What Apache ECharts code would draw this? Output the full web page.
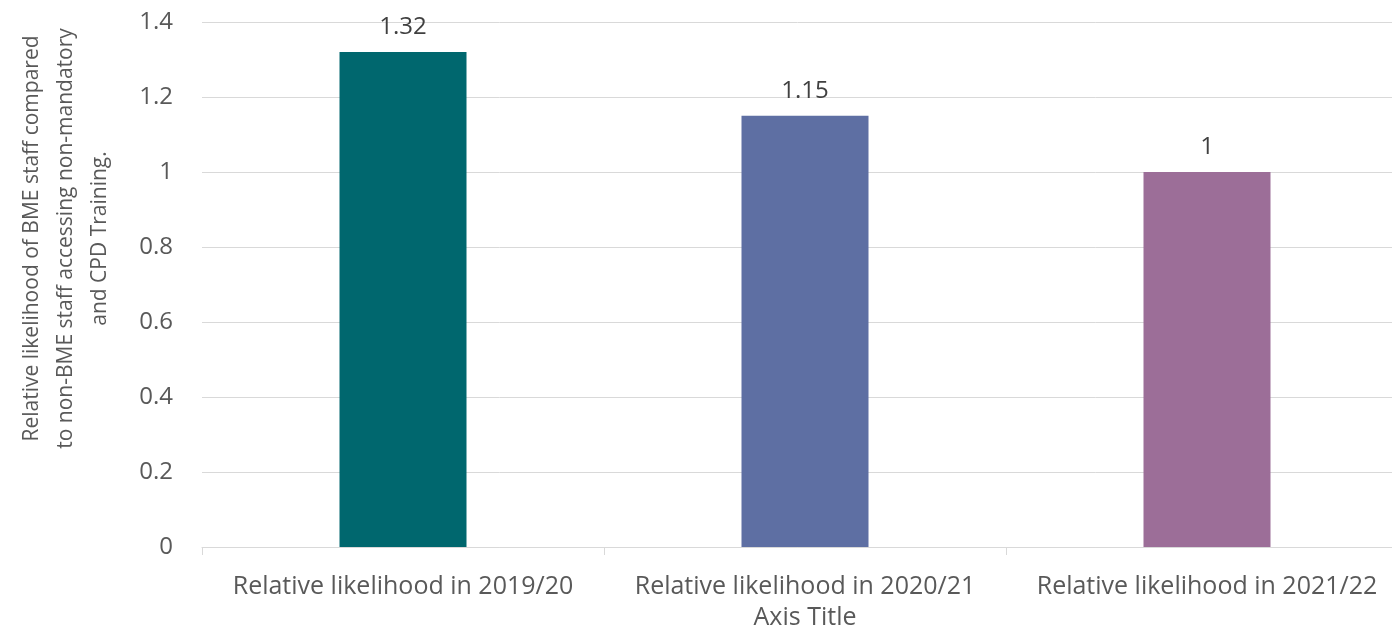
<!DOCTYPE html>
<html><head><meta charset="utf-8">
<script src="https://cdn.jsdelivr.net/npm/echarts@6/dist/echarts.min.js"></script>
<style>html,body{margin:0;padding:0;background:#fff;overflow:hidden}#c{width:1392px;height:628px}</style>
</head><body><div id="c"></div>
<script>
const categories = ['Relative likelihood in 2019/20', 'Relative likelihood in 2020/21', 'Relative likelihood in 2021/22'];
const values = [1.32, 1.15, 1];
const colors = ['#00676E', '#5E6FA3', '#9C6E98'];
const yTicks = [0, 0.2, 0.4, 0.6, 0.8, 1, 1.2, 1.4];
const yTitle = 'Relative likelihood of BME staff compared\nto non-BME staff accessing non-mandatory\nand CPD Training.';
const xTitle = 'Axis Title';
const FONT = '"Open Sans", sans-serif';
const chart = echarts.init(document.getElementById('c'), null, {renderer: 'canvas'});
chart.setOption({
  animation: false,
  grid: {left: 202, right: -16, top: 22, bottom: 81, containLabel: false, outerBoundsMode: 'none'},
  xAxis: {
    type: 'category', data: categories,
    name: xTitle, nameLocation: 'middle', nameGap: 56, nameMoveOverlap: false,
    nameTextStyle: {color: '#595959', fontSize: 25, lineHeight: 30, fontFamily: FONT},
    axisLine: {lineStyle: {color: '#d9d9d9', width: 1}},
    axisTick: {show: true, length: 8, lineStyle: {color: '#d9d9d9'}},
    axisLabel: {color: '#595959', fontSize: 25, lineHeight: 30, fontFamily: FONT, margin: 25, interval: 0, hideOverlap: false}
  },
  yAxis: {
    type: 'value', min: yTicks[0], max: yTicks[yTicks.length - 1], interval: 0.2,
    name: yTitle, nameLocation: 'middle', nameGap: 85, nameRotate: 90, nameMoveOverlap: false,
    nameTextStyle: {color: '#595959', fontSize: 21, fontFamily: FONT, lineHeight: 34, align: 'center', padding: [0, 0, 0, 92]},
    axisLine: {show: false}, axisTick: {show: false},
    axisLabel: {color: '#595959', fontSize: 24, fontFamily: FONT, margin: 29,
      formatter: v => String(Math.round(v * 10) / 10)},
    splitLine: {lineStyle: {color: '#d9d9d9', width: 1}}
  },
  series: [{
    type: 'bar', barWidth: 127,
    data: values.map((v, i) => ({value: v, itemStyle: {color: colors[i]}})),
    label: {show: true, position: 'top', distance: 10, color: '#404040', fontSize: 24, lineHeight: 30, fontFamily: FONT,
      formatter: p => String(p.value)}
  }]
});
</script></body></html>
